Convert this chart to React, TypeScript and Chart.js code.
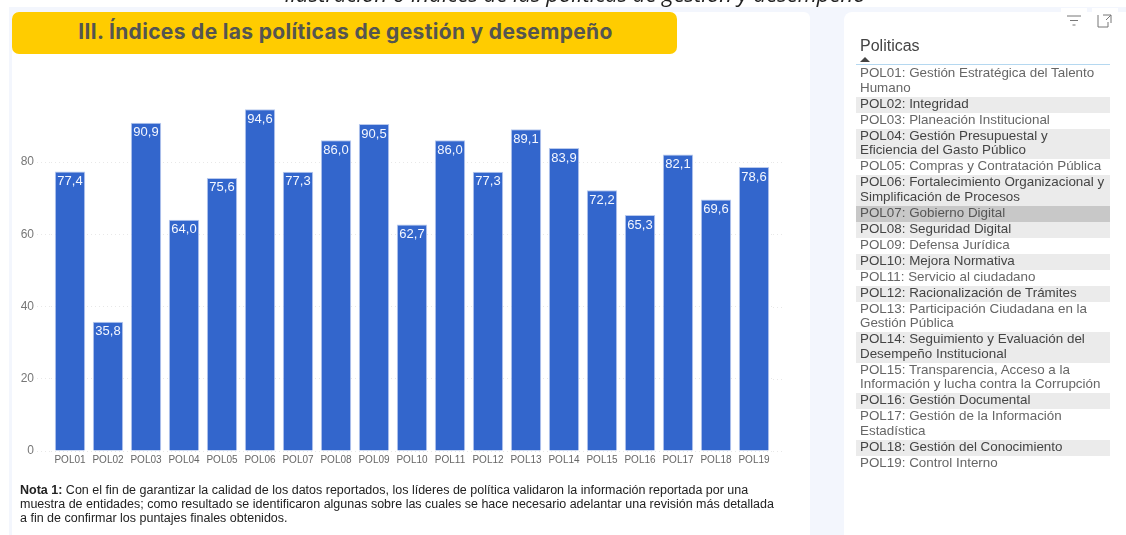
import React, { useEffect, useRef } from "react";
import { Chart, registerables } from "chart.js";

Chart.register(...registerables);

const categories = ["POL01","POL02","POL03","POL04","POL05","POL06","POL07","POL08","POL09","POL10","POL11","POL12","POL13","POL14","POL15","POL16","POL17","POL18","POL19"];
const values = [77.4,35.8,90.9,64.0,75.6,94.6,77.3,86.0,90.5,62.7,86.0,77.3,89.1,83.9,72.2,65.3,82.1,69.6,78.6];
const policyRows: string[][] = [
  ["POL01: Gestión Estratégica del Talento","Humano"],
  ["POL02: Integridad"],
  ["POL03: Planeación Institucional"],
  ["POL04: Gestión Presupuestal y","Eficiencia del Gasto Público"],
  ["POL05: Compras y Contratación Pública"],
  ["POL06: Fortalecimiento Organizacional y","Simplificación de Procesos"],
  ["POL07: Gobierno Digital"],
  ["POL08: Seguridad Digital"],
  ["POL09: Defensa Jurídica"],
  ["POL10: Mejora Normativa"],
  ["POL11: Servicio al ciudadano"],
  ["POL12: Racionalización de Trámites"],
  ["POL13: Participación Ciudadana en la","Gestión Pública"],
  ["POL14: Seguimiento y Evaluación del","Desempeño Institucional"],
  ["POL15: Transparencia, Acceso a la","Información y lucha contra la Corrupción"],
  ["POL16: Gestión Documental"],
  ["POL17: Gestión de la Información","Estadística"],
  ["POL18: Gestión del Conocimiento"],
  ["POL19: Control Interno"],
];
const selectedRow = 6;
const caption = "Ilustración 6 Índices de las políticas de gestión y desempeño";
const heading = "III. Índices de las políticas de gestión y desempeño";
const noteLines = [
  "Con el fin de garantizar la calidad de los datos reportados, los líderes de política validaron la información reportada por una",
  "muestra de entidades; como resultado se identificaron algunas sobre las cuales se hace necesario adelantar una revisión más detallada",
  "a fin de confirmar los puntajes finales obtenidos.",
];

const abs = (left: number, top: number, width: number, height: number): React.CSSProperties => ({
  position: "absolute", left, top, width, height,
});
const sans = '"Liberation Sans", Arial, sans-serif';

const gridExtension = {
  id: "gridExtension",
  beforeDatasetsDraw(chart: any) {
    const { ctx, chartArea, scales } = chart;
    ctx.save();
    ctx.strokeStyle = "#e8e8e8";
    ctx.lineWidth = 1;
    ctx.setLineDash([1, 3]);
    scales.y.ticks.forEach((t: any) => {
      const y = Math.round(scales.y.getPixelForValue(t.value)) + 0.5;
      ctx.beginPath();
      ctx.moveTo(chartArea.right, y);
      ctx.lineTo(chartArea.right + 12, y);
      ctx.stroke();
    });
    ctx.restore();
  },
};

const valueLabels = {
  id: "valueLabels",
  afterDatasetsDraw(chart: any) {
    const { ctx } = chart;
    const meta = chart.getDatasetMeta(0);
    ctx.save();
    ctx.font = `13px ${sans}`;
    ctx.fillStyle = "#f4f7ff";
    ctx.textAlign = "center";
    ctx.textBaseline = "middle";
    meta.data.forEach((bar: any, i: number) => {
      ctx.fillText(values[i].toFixed(1).replace(".", ","), bar.x, bar.y + 10);
    });
    ctx.restore();
  },
};

export default function App() {
  const ref = useRef<HTMLCanvasElement>(null);
  useEffect(() => {
    const chart = new Chart(ref.current!, {
      type: "bar",
      data: {
        labels: categories,
        datasets: [{
          data: values,
          backgroundColor: "#3366cc",
          borderColor: "#b9caee",
          borderWidth: 1,
          categoryPercentage: 1,
          barPercentage: 0.8,
        }],
      },
      options: {
        animation: false,
        responsive: false,
        devicePixelRatio: 1,
        layout: { padding: { top: 97, right: 353, left: 0, bottom: 0 } },
        plugins: { legend: { display: false }, tooltip: { enabled: false }, title: { display: false } },
        scales: {
          x: {
            afterFit: (s: any) => { s.height = 84; },
            grid: { display: false, drawTicks: false },
            border: { display: false },
            ticks: { autoSkip: false, maxRotation: 0, minRotation: 0, padding: 3, color: "#666666", font: { family: sans, size: 10 } },
          },
          y: {
            min: 0,
            max: 98,
            afterFit: (s: any) => { s.width = 51; },
            border: { display: false, dash: [1, 3] },
            grid: {
              color: "#e8e8e8",
              lineWidth: 1,
              tickLength: 14,
              tickColor: "#e8e8e8",
              tickBorderDash: [1, 3],
              drawTicks: true,
            } as any,
            ticks: { stepSize: 20, includeBounds: false, padding: 3, color: "#777777", font: { family: sans, size: 12 } },
          },
        },
      },
      plugins: [gridExtension, valueLabels],
    } as any);
    return () => chart.destroy();
  }, []);

  return (
    <div style={{ position: "absolute", left: 0, top: 0, width: 1126, height: 535, overflow: "hidden", background: "#ffffff", fontFamily: sans }}>
      <div style={{ ...abs(9, 7, 1117, 528), background: "#f3f6fd" }} />
      <div style={{ ...abs(12, 12, 798, 530), background: "#ffffff", borderRadius: 6 }} />
      <div style={{ ...abs(844, 12, 290, 530), background: "#ffffff", borderRadius: 8 }} />
      <div style={{ ...abs(1061, 8, 26, 8), background: "#ffffff" }} />
      <div style={{ ...abs(1092, 8, 26, 8), background: "#ffffff" }} />
      <div style={{ ...abs(0, -17, 1126, 20), textAlign: "center", paddingLeft: 24, boxSizing: "border-box", fontFamily: '"Open Sans", sans-serif', fontStyle: "italic", fontSize: 22, lineHeight: "20px", color: "#222222", whiteSpace: "nowrap", zIndex: 2 }}>{caption}</div>
      <div style={{ ...abs(12, 12, 665, 42), background: "#ffcc00", borderRadius: 7, textAlign: "center", paddingLeft: 2, boxSizing: "border-box", lineHeight: "40px", fontFamily: "Inter, sans-serif", fontWeight: 700, fontSize: 21, letterSpacing: 0.33, color: "#555550", whiteSpace: "nowrap" }}>{heading}</div>
      <canvas ref={ref} width={1126} height={535} style={{ ...abs(0, 0, 1126, 535), display: "block" }} />
      <div style={{ ...abs(20, 482.5, 780, 44), fontSize: 12.5, lineHeight: "14px", color: "#222222", whiteSpace: "nowrap" }}>
        <div><b>Nota 1:</b> {noteLines[0]}</div>
        <div>{noteLines[1]}</div>
        <div>{noteLines[2]}</div>
      </div>
      <svg style={abs(1060, 8, 60, 24)} viewBox="0 0 60 24" fill="none" stroke="#777777" strokeWidth="1">
        <path d="M7 8h14M10 12.500h8M12.500 17h3" />
        <path d="M38 10v-3h-0M38 10v9h10v-5M43 7h8v8M46 12l5-5" />
      </svg>
      <div style={{ ...abs(860, 37, 200, 18), fontSize: 16, lineHeight: "18px", color: "#444444" }}>Politicas</div>
      <div style={{ position: "absolute", left: 860, top: 57, width: 0, height: 0, borderLeft: "5px solid transparent", borderRight: "5px solid transparent", borderBottom: "5px solid #444444" }} />
      <div style={{ ...abs(856, 64, 254, 1), background: "#b5d8f0" }} />
      <div style={{ ...abs(856, 66, 254, 410) }}>
        {policyRows.map((lines, i) => (
          <div key={i} style={{
            height: lines.length * 14.5 + 1.5,
            background: i === selectedRow ? "#c8c8c8" : i % 2 === 1 ? "#ebebeb" : "transparent",
            color: i === selectedRow ? "#555555" : i % 2 === 1 ? "#444444" : "#666666",
            fontSize: 13.4,
            lineHeight: "14.500px",
            paddingLeft: 4,
            whiteSpace: "nowrap",
          }}>
            {lines.map((l, j) => <div key={j}>{l}</div>)}
          </div>
        ))}
      </div>
    </div>
  );
}
